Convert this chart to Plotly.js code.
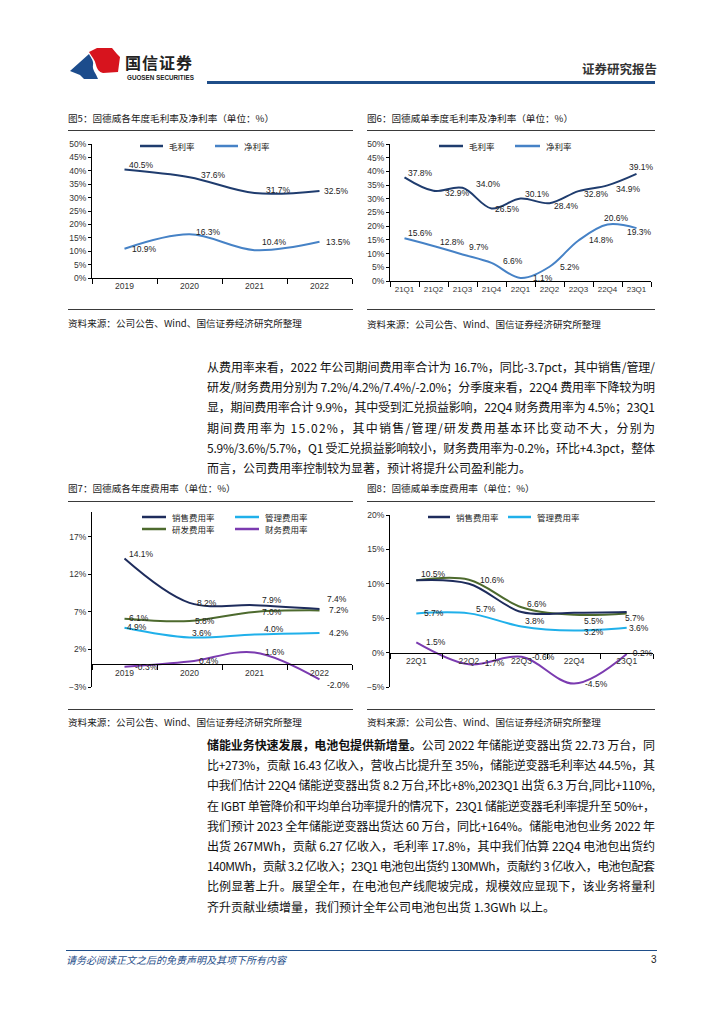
<!DOCTYPE html>
<html><head><meta charset="utf-8">
<script src="https://cdn.plot.ly/plotly-3.0.1.min.js"></script>
<style>
html,body{margin:0;padding:0;background:#fff}
body{width:724px;height:1024px;position:relative;overflow:hidden;font-family:"Noto Sans CJK SC","Noto Sans",sans-serif;color:#111}
.a{position:absolute;white-space:nowrap}
.ttl{font-size:9.6px;line-height:12px;color:#1a1a1a}
.rule{position:absolute;height:1.3px;background:#3a3a3a}
.chart{position:absolute}
.para{position:absolute;left:207px;width:448px;font-size:12px;line-height:20.2px;color:#111}
.para div{height:20.2px;white-space:nowrap}
</style></head><body>

<svg class="a" style="left:0;top:0" width="724" height="100">
  <path d="M70,71 L89,54 C91,58 94,61 93,65 C92,70 96,73 98,79 L84,79 L80,75 Z" fill="#1C4C8C"/>
  <path d="M89,52 L97,48 L112,48 L117,54 L120,57 L118,72 L103,73 C99,72 97,69 96,65 C95,60 92,57 89,52 Z" fill="#D7141E"/>
</svg>
<div class="a" style="left:125px;top:52px;font-size:16px;line-height:20px;font-weight:700;letter-spacing:1px;color:#222">国信证券</div>
<div class="a" style="left:127px;top:74px;font-size:6.3px;line-height:8px;font-weight:700;font-family:'Liberation Sans',sans-serif;color:#222">GUOSEN SECURITIES</div>
<div class="a" style="left:582px;top:61px;font-size:12.5px;line-height:16px;font-weight:700;color:#333">证券研究报告</div>
<div class="a" style="left:207px;top:81px;width:448px;height:2.5px;background:#1F4E89"></div>

<div class="a ttl" style="left:68px;top:112px">图5：固德威各年度毛利率及净利率（单位：%）</div>
<div class="rule" style="left:68px;top:130px;width:285px"></div>
<div id="c5" class="chart" style="left:60px;top:132px;width:300px;height:175px"></div>
<div class="rule" style="left:68px;top:309px;width:285px"></div>
<div class="a ttl" style="left:68px;top:317px">资料来源：公司公告、Wind、国信证券经济研究所整理</div>

<div class="a ttl" style="left:367px;top:112px">图6：固德威单季度毛利率及净利率（单位：%）</div>
<div class="rule" style="left:367px;top:130px;width:288px"></div>
<div id="c6" class="chart" style="left:360px;top:132px;width:300px;height:175px"></div>
<div class="rule" style="left:367px;top:309px;width:288px"></div>
<div class="a ttl" style="left:367px;top:318px">资料来源：公司公告、Wind、国信证券经济研究所整理</div>

<div class="para" style="top:357px">
<div>从费用率来看，2022 年公司期间费用率合计为 16.7%，同比-3.7pct，其中销售/管理/</div>
<div>研发/财务费用分别为 7.2%/4.2%/7.4%/-2.0%；分季度来看，22Q4 费用率下降较为明</div>
<div>显，期间费用率合计 9.9%，其中受到汇兑损益影响，22Q4 财务费用率为 4.5%；23Q1</div>
<div>期间费用率为 15.02%，其中销售/管理/研发费用基本环比变动不大，分别为</div>
<div>5.9%/3.6%/5.7%，Q1 受汇兑损益影响较小，财务费用率为-0.2%，环比+4.3pct，整体</div>
<div class="last">而言，公司费用率控制较为显著，预计将提升公司盈利能力。</div>
</div>

<div class="a ttl" style="left:68px;top:482px">图7：固德威各年度费用率（单位：%）</div>
<div class="rule" style="left:68px;top:501px;width:285px"></div>
<div id="c7" class="chart" style="left:60px;top:503px;width:300px;height:200px"></div>
<div class="rule" style="left:68px;top:709px;width:285px"></div>
<div class="a ttl" style="left:68px;top:716px">资料来源：公司公告、Wind、国信证券经济研究所整理</div>

<div class="a ttl" style="left:367px;top:482px">图8：固德威单季度费用率（单位：%）</div>
<div class="rule" style="left:367px;top:501px;width:288px"></div>
<div id="c8" class="chart" style="left:360px;top:503px;width:300px;height:200px"></div>
<div class="rule" style="left:367px;top:709px;width:288px"></div>
<div class="a ttl" style="left:367px;top:716px">资料来源：公司公告、Wind、国信证券经济研究所整理</div>

<div class="para" style="top:735px">
<div><b>储能业务快速发展，电池包提供新增量。</b>公司 2022 年储能逆变器出货 22.73 万台，同</div>
<div>比+273%，贡献 16.43 亿收入，营收占比提升至 35%，储能逆变器毛利率达 44.5%，其</div>
<div>中我们估计 22Q4 储能逆变器出货 8.2 万台,环比+8%,2023Q1 出货 6.3 万台,同比+110%,</div>
<div>在 IGBT 单管降价和平均单台功率提升的情况下，23Q1 储能逆变器毛利率提升至 50%+，</div>
<div>我们预计 2023 全年储能逆变器出货达 60 万台，同比+164%。储能电池包业务 2022 年</div>
<div>出货 267MWh，贡献 6.27 亿收入，毛利率 17.8%，其中我们估算 22Q4 电池包出货约</div>
<div>140MWh，贡献 3.2 亿收入；23Q1 电池包出货约 130MWh，贡献约 3 亿收入，电池包配套</div>
<div>比例显著上升。展望全年，在电池包产线爬坡完成，规模效应显现下，该业务将量利</div>
<div class="last">齐升贡献业绩增量，我们预计全年公司电池包出货 1.3GWh 以上。</div>
</div>

<div class="a" style="left:66px;top:950px;width:591px;height:1px;background:#1F4E89"></div>
<div class="a" style="left:66px;top:953px;font-size:10px;line-height:13px;font-style:italic;color:#1F4E89">请务必阅读正文之后的免责声明及其项下所有内容</div>
<div class="a" style="left:651px;top:953px;font-size:10px;line-height:13px;font-family:'Liberation Sans',sans-serif;color:#222">3</div>

<script>
// ---------- data ----------
const years = ['2019', '2020', '2021', '2022'];
const grossAnnual = [40.5, 37.6, 31.7, 32.5];
const netAnnual = [10.9, 16.3, 10.4, 13.5];

const quartersA = ['21Q1', '21Q2', '21Q3', '21Q4', '22Q1', '22Q2', '22Q3', '22Q4', '23Q1'];
const grossQuarter = [37.8, 32.9, 34.0, 26.5, 30.1, 28.4, 32.8, 34.9, 39.1];
const netQuarter = [15.6, 12.8, 9.7, 6.6, 1.1, 5.2, 14.8, 20.6, 19.3];

const salesAnnual = [14.1, 8.2, 7.9, 7.4];
const adminAnnual = [4.9, 3.6, 4.0, 4.2];
const rdAnnual = [6.1, 5.8, 7.0, 7.2];
const finAnnual = [-0.3, 0.4, 1.6, -2.0];

const quartersB = ['22Q1', '22Q2', '22Q3', '22Q4', '23Q1'];
const salesQuarter = [10.5, 10.0, 5.9, 5.8, 5.9];
const adminQuarter = [5.7, 5.7, 3.8, 3.2, 3.6];
const rdQuarter = [10.5, 10.6, 6.6, 5.5, 5.7];
const finQuarter = [1.5, -1.7, -0.6, -4.5, -0.2];

const nameGross = '毛利率', nameNet = '净利率';
const nameSales = '销售费用率', nameAdmin = '管理费用率', nameRd = '研发费用率', nameFin = '财务费用率';

// ---------- justify body text lines ----------
(function(){
  const W = 448;
  document.querySelectorAll('.para div').forEach(d => {
    if (d.classList.contains('last')) return;
    const span = document.createElement('span');
    while (d.firstChild) span.appendChild(d.firstChild);
    d.appendChild(span);
    const w = span.getBoundingClientRect().width;
    const n = d.textContent.length;
    d.style.letterSpacing = ((W - w) / (n - 1)) + 'px';
  });
})();

// ---------- styles ----------
const C = {
  gross: '#1F3C6E', net: '#4682C6',
  sales: '#1E2C5C', admin: '#20B0EA', rd: '#4D6A2E', fin: '#7B3BB0'
};
const FONT = 'Liberation Sans, Noto Sans CJK SC, sans-serif';
const CJK = 'Noto Sans CJK SC, sans-serif';

// label offsets (px) [dx, dy-up] per point
const shift5 = {
  gross: [[17,4],[24,2],[24,3],[17,0]],
  net: [[20,0],[19,2],[20,8],[19,0]]
};
const shift6 = {
  gross: [[16,4],[24,-2],[26,4],[16,-1],[17,5],[17,-3],[18,-3],[21,-4],[5,7]],
  net: [[16,5],[19,4],[16,7],[21,2],[22,0],[20,0],[23,0],[9,7],[3,-4]]
};
const shift7 = {
  sales: [[17,5],[17,0],[17,5],[17,10]],
  rd: [[14,1],[15,0],[17,0],[19,0]],
  admin: [[12,1],[12,4],[19,5],[19,0]],
  fin: [[22,0],[19,0],[20,0],[19,-6]]
};
const shift8 = {
  rd: [[17,6],[24,0],[15,3],[20,-6],[8,-5]],
  admin: [[18,0],[17,4],[13,5],[20,-1],[12,0]],
  fin: [[20,0],[25,1],[22,0],[22,0],[15,1]]
};

function line(x, y, name, color) {
  return {type:'scatter', mode:'lines', x, y, name,
    line:{color, width:2, shape:'spline', smoothing:1}, hoverinfo:'skip'};
}
// annotations placed at the category index on the category axis
function labels(x, y, sh) {
  return x.map((c, i) => ({x:i, y:y[i], xref:'x', yref:'y', showarrow:false,
    text:y[i].toFixed(1) + '%', xshift:sh[i][0], yshift:sh[i][1],
    font:{family:FONT, size:8.5, color:'#222'}}));
}
// manual legend, coordinates in px relative to the chart div
function legend(geo, items) {
  const pw = geo.W - geo.m.l - geo.m.r, ph = geo.H - geo.m.t - geo.m.b;
  const px = v => (v - geo.m.l) / pw, py = v => 1 - (v - geo.m.t) / ph;
  const shapes = [], anns = [];
  items.forEach(it => {
    shapes.push({type:'line', xref:'paper', yref:'paper', x0:px(it.x0), x1:px(it.x1),
      y0:py(it.y), y1:py(it.y), line:{color:it.color, width:2.5}});
    anns.push({xref:'paper', yref:'paper', x:px(it.x1 + 4), y:py(it.y), xanchor:'left', yanchor:'middle',
      showarrow:false, text:it.name, font:{family:CJK, size:8.5, color:'#222'}});
  });
  return {shapes, anns};
}
function base(geo) {
  return {width:geo.W, height:geo.H, margin:geo.m, showlegend:false,
    paper_bgcolor:'rgba(0,0,0,0)', plot_bgcolor:'rgba(0,0,0,0)',
    font:{family:FONT, size:8.5, color:'#333'}};
}
function xax(extra) {
  return Object.assign({type:'category', showline:true, linecolor:'#000', linewidth:1,
    ticks:'outside', ticklen:5, tickcolor:'#000', tickson:'boundaries', showgrid:false,
    zeroline:false, tickangle:0, tickfont:{size:8.5, color:'#333'}, automargin:false}, extra);
}
function yax(extra) {
  return Object.assign({showline:true, linecolor:'#000', linewidth:1, ticks:'outside',
    ticklen:3, tickcolor:'#000', showgrid:false, zeroline:false, ticksuffix:'%',
    tickfont:{size:8.5, color:'#333'}, automargin:false}, extra);
}
const cfg = {staticPlot:true, displayModeBar:false};

// ---------- chart 5 ----------
(function(){
  const geo = {W:300, H:175, m:{l:32, r:8, t:12, b:29, pad:0}};
  const lg = legend(geo, [
    {name:nameGross, color:C.gross, x0:80, x1:103, y:14},
    {name:nameNet, color:C.net, x0:155, x1:178, y:14}
  ]);
  const L = base(geo);
  L.xaxis = xax({range:[-0.5, years.length - 0.5]});
  L.yaxis = yax({range:[0, 50], dtick:5, tick0:0});
  L.shapes = lg.shapes;
  L.annotations = lg.anns.concat(labels(years, grossAnnual, shift5.gross), labels(years, netAnnual, shift5.net));
  Plotly.newPlot('c5', [line(years, grossAnnual, nameGross, C.gross), line(years, netAnnual, nameNet, C.net)], L, cfg);
})();

// ---------- chart 6 ----------
(function(){
  const geo = {W:300, H:175, m:{l:30, r:9, t:12, b:26, pad:0}};
  const lg = legend(geo, [
    {name:nameGross, color:C.gross, x0:79, x1:103, y:14},
    {name:nameNet, color:C.net, x0:155, x1:180, y:14}
  ]);
  const L = base(geo);
  L.xaxis = xax({range:[-0.5, quartersA.length - 0.5], tickfont:{size:8, color:'#333'}});
  L.yaxis = yax({range:[0, 50], dtick:5, tick0:0});
  L.shapes = lg.shapes;
  L.annotations = lg.anns.concat(labels(quartersA, grossQuarter, shift6.gross), labels(quartersA, netQuarter, shift6.net));
  Plotly.newPlot('c6', [line(quartersA, grossQuarter, nameGross, C.gross), line(quartersA, netQuarter, nameNet, C.net)], L, cfg);
})();

// ---------- chart 7 ----------
(function(){
  const geo = {W:300, H:200, m:{l:32, r:8, t:9, b:16, pad:0}};
  const yr = [-3, 20.3];
  const lg = legend(geo, [
    {name:nameSales, color:C.sales, x0:82, x1:106, y:14},
    {name:nameAdmin, color:C.admin, x0:175, x1:199, y:14},
    {name:nameRd, color:C.rd, x0:82, x1:106, y:26},
    {name:nameFin, color:C.fin, x0:175, x1:199, y:26}
  ]);
  const L = base(geo);
  L.xaxis = xax({range:[-0.5, years.length - 0.5], anchor:'free', position:(0 - yr[0]) / (yr[1] - yr[0])});
  L.yaxis = yax({range:yr, dtick:5, tick0:-3});
  L.shapes = lg.shapes;
  L.annotations = lg.anns.concat(
    labels(years, salesAnnual, shift7.sales), labels(years, rdAnnual, shift7.rd),
    labels(years, adminAnnual, shift7.admin), labels(years, finAnnual, shift7.fin));
  Plotly.newPlot('c7', [
    line(years, rdAnnual, nameRd, C.rd), line(years, salesAnnual, nameSales, C.sales),
    line(years, adminAnnual, nameAdmin, C.admin), line(years, finAnnual, nameFin, C.fin)], L, cfg);
})();

// ---------- chart 8 ----------
(function(){
  const geo = {W:300, H:200, m:{l:30, r:7, t:12, b:16, pad:0}};
  const yr = [-5, 20];
  const lg = legend(geo, [
    {name:nameSales, color:C.sales, x0:68, x1:90, y:14},
    {name:nameAdmin, color:C.admin, x0:148, x1:171, y:14}
  ]);
  const L = base(geo);
  L.xaxis = xax({range:[-0.5, quartersB.length - 0.5], anchor:'free', position:(0 - yr[0]) / (yr[1] - yr[0])});
  L.yaxis = yax({range:yr, dtick:5, tick0:0});
  L.shapes = lg.shapes;
  L.annotations = lg.anns.concat(
    labels(quartersB, rdQuarter, shift8.rd), labels(quartersB, adminQuarter, shift8.admin),
    labels(quartersB, finQuarter, shift8.fin));
  Plotly.newPlot('c8', [
    line(quartersB, rdQuarter, nameRd, C.rd), line(quartersB, salesQuarter, nameSales, C.sales),
    line(quartersB, adminQuarter, nameAdmin, C.admin), line(quartersB, finQuarter, nameFin, C.fin)], L, cfg);
})();
</script>
</body></html>
